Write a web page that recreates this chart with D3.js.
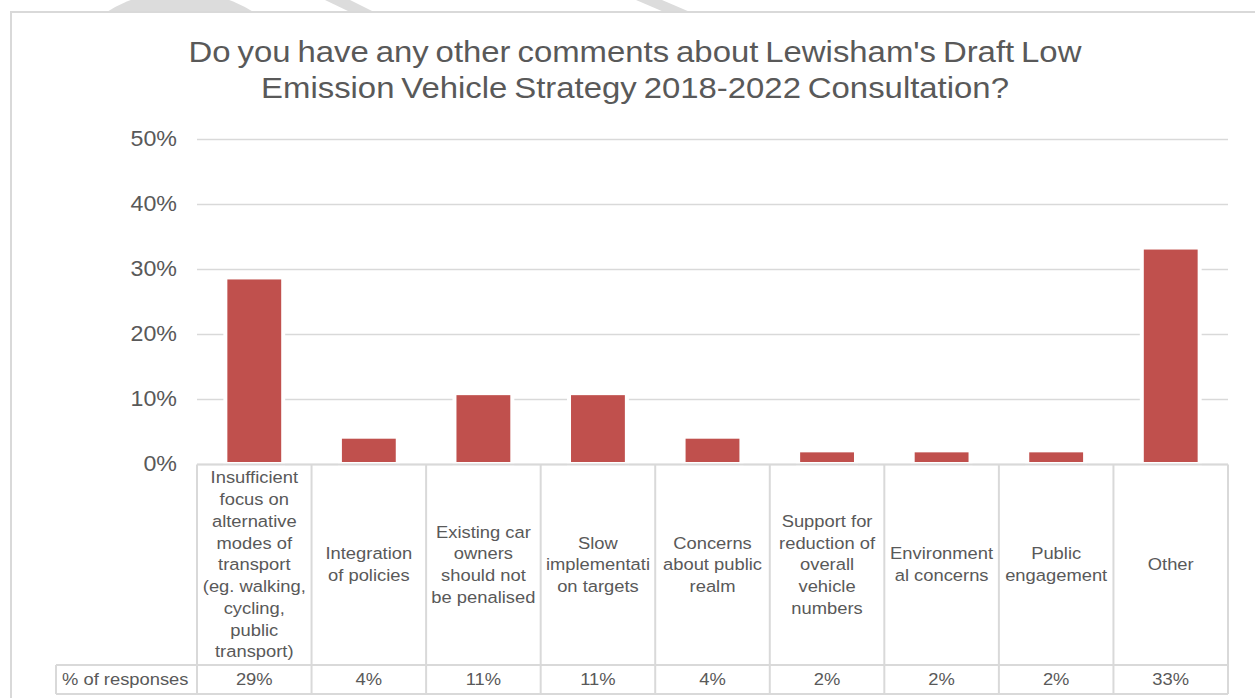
<!DOCTYPE html>
<html>
<head>
<meta charset="utf-8">
<script src="https://cdn.jsdelivr.net/npm/d3@7"></script>
<style>
  html, body { margin: 0; padding: 0; background: #ffffff; }
  svg { display: block; }
  text { font-family: "Liberation Sans", Arial, sans-serif; fill: #595959; }
</style>
</head>
<body>
<svg id="chart" width="1255" height="698"></svg>
<script>
// Survey responses: share of comments per theme
const categories = [
  "Insufficient focus on alternative modes of transport (eg. walking, cycling, public transport)",
  "Integration of policies",
  "Existing car owners should not be penalised",
  "Slow implementation targets",
  "Concerns about public realm",
  "Support for reduction of overall vehicle numbers",
  "Environmental concerns",
  "Public engagement",
  "Other"
];
// wrapped lines of each category cell
const categoryLines = [
  ["Insufficient", "focus on", "alternative", "modes of", "transport", "(eg. walking,", "cycling,", "public", "transport)"],
  ["Integration", "of policies"],
  ["Existing car", "owners", "should not", "be penalised"],
  ["Slow", "implementati", "on targets"],
  ["Concerns", "about public", "realm"],
  ["Support for", "reduction of", "overall", "vehicle", "numbers"],
  ["Environment", "al concerns"],
  ["Public", "engagement"],
  ["Other"]
];
const values = [0.287, 0.042, 0.109, 0.109, 0.042, 0.021, 0.021, 0.021, 0.333];
const yTicks = [0, 0.1, 0.2, 0.3, 0.4, 0.5];
const seriesName = "% of responses";
const titleLines = [
  "Do you have any other comments about Lewisham's Draft Low",
  "Emission Vehicle Strategy 2018-2022 Consultation?"
];

const SX = 1.08;              // slight horizontal widening of the lettering
const grey = "#d9d9d9";
const barColor = "#c0504d";
const pct = d3.format(".0%");

const svg = d3.select("#chart");

// faint watermark shapes peeking above the chart frame
const wm = svg.append("g").attr("fill", "#dcdcdc");
wm.append("circle").attr("cx", 180).attr("cy", 130).attr("r", 139);
wm.append("polygon").attr("points", "325,0 350,0 374,12 350,12");
wm.append("polygon").attr("points", "636,0 662,0 690,12 664,12");

// chart frame
svg.append("rect")
  .attr("x", 11).attr("y", 12).attr("width", 1260).attr("height", 700)
  .attr("fill", "#ffffff").attr("stroke", grey).attr("stroke-width", 2);

// helper for horizontally widened text
function label(g, x, y, str, size, anchor, sx) {
  return g.append("text")
    .attr("transform", `translate(${x},${y}) scale(${sx || SX},1)`)
    .attr("text-anchor", anchor || "middle")
    .attr("font-size", size)
    .text(str);
}

// title
titleLines.forEach((t, i) => {
  label(svg, 635, 62 + i * 36, t, 29.5, "middle", 1.115).attr("word-spacing", "-2px");
});

const plotLeft = 197, plotRight = 1228, plotTop = 139, plotBase = 464;
const x = d3.scaleBand().domain(categories).range([plotLeft, plotRight]).padding(0);
const y = d3.scaleLinear().domain([0, 0.5]).range([plotBase, plotTop]);

// gridlines and percentage axis
const axis = svg.append("g")
  .attr("transform", `translate(${plotLeft},0)`)
  .call(d3.axisLeft(y).tickValues(yTicks).tickFormat(pct)
    .tickSize(-(plotRight - plotLeft)).tickPadding(20));
axis.select(".domain").remove();
axis.selectAll(".tick line").attr("stroke", grey).attr("stroke-width", 1.6);
axis.selectAll(".tick text")
  .attr("font-family", "Liberation Sans, Arial, sans-serif")
  .attr("font-size", 21.5).attr("fill", "#595959")
  .attr("x", -20 / SX).attr("transform", `scale(${SX},1)`);

// bars with a white outline that breaks the gridlines
const barW = x.bandwidth() * 0.505;
svg.append("g").selectAll("rect")
  .data(values)
  .join("rect")
  .attr("x", (d, i) => x(categories[i]) + (x.bandwidth() - barW) / 2)
  .attr("y", d => y(d))
  .attr("width", barW)
  .attr("height", d => plotBase - y(d))
  .attr("fill", barColor)
  .attr("stroke", "#ffffff")
  .attr("stroke-width", 4);

// data table below the plot
const rowTop = plotBase + 0.5, rowMid = 665, rowBot = 694, headLeft = 56;
const table = svg.append("g");
const lines = table.append("g").attr("stroke", grey).attr("stroke-width", 2).attr("fill", "none");
lines.append("line").attr("x1", plotLeft).attr("x2", plotRight).attr("y1", rowTop).attr("y2", rowTop);
lines.append("line").attr("x1", headLeft).attr("x2", plotRight).attr("y1", rowMid).attr("y2", rowMid);
lines.append("line").attr("x1", headLeft).attr("x2", plotRight).attr("y1", rowBot).attr("y2", rowBot);
lines.append("line").attr("x1", headLeft).attr("x2", headLeft).attr("y1", rowMid).attr("y2", rowBot);
categories.concat([null]).forEach((c) => {
  const xx = c === null ? plotRight : x(c);
  lines.append("line").attr("x1", xx).attr("x2", xx).attr("y1", rowTop).attr("y2", rowBot);
});

const lh = 21.75;
categories.forEach((c, i) => {
  const cx = x(c) + x.bandwidth() / 2;
  const ls = categoryLines[i];
  const cy = (rowTop + rowMid) / 2;
  ls.forEach((t, j) => {
    const yy = cy + (j - (ls.length - 1) / 2) * lh + 5.5;
    label(table, cx, yy, t, 17);
  });
  label(table, cx, (rowMid + rowBot) / 2 + 5.5, pct(values[i]), 17);
});
label(table, 62, (rowMid + rowBot) / 2 + 5.5, seriesName, 17, "start");
</script>
</body>
</html>
